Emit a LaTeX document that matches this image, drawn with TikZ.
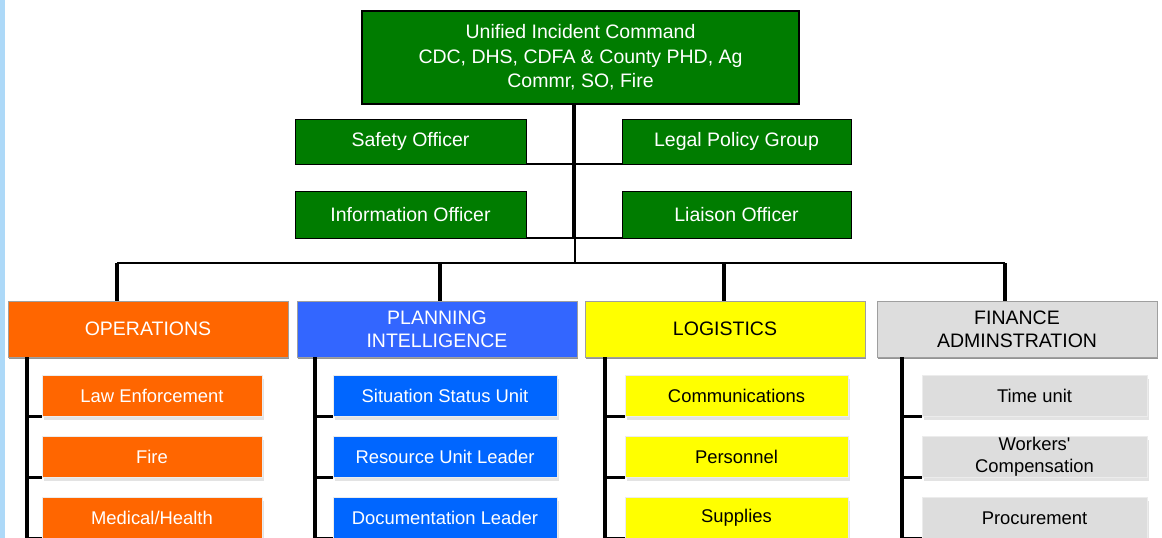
\documentclass[tikz,border=0pt]{standalone}
\usepackage{fontspec}
\setmainfont{Liberation Sans}
\usetikzlibrary{shadows}

\definecolor{cmdgreen}{HTML}{007C00}
\definecolor{opsorange}{HTML}{FF6600}
\definecolor{planblue}{HTML}{3366FF}
\definecolor{subblue}{HTML}{0066FF}
\definecolor{logyellow}{HTML}{FFFF00}
\definecolor{fingray}{HTML}{DDDDDD}
\definecolor{edgeblue}{HTML}{ADD9F8}

\begin{document}
\begin{tikzpicture}[x=1pt,y=-1pt,
  every node/.style={inner sep=0pt, outer sep=0pt, align=center},
  cmdbox/.style={fill=cmdgreen, draw=black, line width=0.9pt, text=white,
    font=\fontsize{19.5}{24.5}\selectfont,
    drop shadow={shadow xshift=1.3pt, shadow yshift=-1.3pt, fill=black, opacity=1}},
  headbox/.style={draw=gray!75, line width=0.9pt,
    font=\fontsize{19.5}{23}\selectfont, minimum width=280pt, minimum height=56pt,
    drop shadow={shadow xshift=1.2pt, shadow yshift=-2.4pt, fill=gray!85, opacity=1}},
  subbox/.style={draw=gray!15, line width=0.8pt,
    font=\fontsize{18.4}{22}\selectfont, minimum height=41pt,
    drop shadow={shadow xshift=2.4pt, shadow yshift=-3pt, fill=gray!22, opacity=1}},
  opsc/.style={fill=opsorange, text=white},
  planc/.style={fill=planblue, text=white},
  plansub/.style={fill=subblue, text=white},
  logc/.style={fill=logyellow, text=black},
  finc/.style={fill=fingray, text=black},
  trunk/.style={draw=black, line width=3.6pt},
  link/.style={draw=black, line width=2.8pt},
  bus/.style={draw=black, line width=2pt},
  stem/.style={draw=black, line width=3.6pt}
]
\useasboundingbox (0,0) rectangle (1162,538);
\clip (0,0) rectangle (1162,538);
\fill[white] (0,0) rectangle (1162,538);
\fill[edgeblue] (0,0) rectangle (4.5,538);

% command staff
\node[cmdbox, line width=1.8pt, minimum width=437pt, minimum height=93pt] (uic) at (580.5,57.5)
  {Unified Incident Command\\CDC, DHS, CDFA \& County PHD, Ag\\Commr, SO, Fire};
\node[cmdbox, minimum width=231pt, minimum height=45pt] (safety) at (410.5,141.5) {Safety Officer};
\node[cmdbox, minimum width=229pt, minimum height=45pt] (legal) at (736.5,141.5) {Legal Policy Group};
\node[cmdbox, minimum width=231pt, minimum height=47pt] (info) at (410.5,214.5) {Information Officer};
\node[cmdbox, minimum width=229pt, minimum height=47pt] (liaison) at (736.5,214.5) {Liaison Officer};

% junctions of the command trunk
\coordinate (j1) at (574,164);
\coordinate (j2) at (574,238);
\coordinate (j3) at (575,238);
\coordinate (busc) at (575,263);
\coordinate (b1) at (117,263);
\coordinate (b2) at (440,263);
\coordinate (b3) at (724,263);
\coordinate (b4) at (1005,263);

% sections
\node[headbox, opsc] (ops) at (148,329) {OPERATIONS};
\node[headbox, planc] (plan) at (437,329) {PLANNING\\INTELLIGENCE};
\node[headbox, logc] (log) at (725,329) {LOGISTICS};
\node[headbox, finc] (fin) at (1017,329) {FINANCE\\ADMINSTRATION};

% units
\node[subbox, opsc, minimum width=220pt] (opsA) at (152,396) {Law Enforcement};
\node[subbox, opsc, minimum width=220pt] (opsB) at (152,457) {Fire};
\node[subbox, opsc, minimum width=220pt] (opsC) at (152,518) {Medical/Health};

\node[subbox, plansub, minimum width=224pt] (planA) at (445,396) {Situation Status Unit};
\node[subbox, plansub, minimum width=224pt] (planB) at (445,457) {Resource Unit Leader};
\node[subbox, plansub, minimum width=224pt] (planC) at (445,518) {Documentation Leader};

\node[subbox, logc, minimum width=223pt] (logA) at (736.5,396) {Communications};
\node[subbox, logc, minimum width=223pt] (logB) at (736.5,457) {Personnel};
\node[subbox, logc, minimum width=223pt] (logC) at (736.5,518) {Supplies\vphantom{/}};

\node[subbox, finc, minimum width=225pt] (finA) at (1034.5,396) {Time unit};
\node[subbox, finc, minimum width=225pt] (finB) at (1034.5,457) {Workers\textquotesingle\\Compensation};
\node[subbox, finc, minimum width=225pt] (finC) at (1034.5,518) {Procurement};

% command connectors
\draw[trunk] (uic.south -| j1) -- (j2);
\draw[bus] (j3) -- (busc);
\draw[link] (safety.south east) -- (legal.south west);
\draw[link] (info.south east) -- (liaison.south west);
\draw[bus] (b1) -- (b4);
\draw[stem] (b1) -- (b1 |- ops.north);
\draw[stem] (b2) -- (b2 |- plan.north);
\draw[stem] (b3) -- (b3 |- log.north);
\draw[stem] (b4) -- (b4 |- fin.north);

% unit connectors
\coordinate (opsS) at ([xshift=19pt]ops.south west);
\coordinate (planS) at ([xshift=18pt]plan.south west);
\coordinate (logS) at ([xshift=20pt]log.south west);
\coordinate (finS) at ([xshift=25pt]fin.south west);
\foreach \s in {ops,plan,log,fin}{
  \draw[stem] (\s S) -- (\s S |- \s C.south);
  \foreach \u in {A,B,C}{
    \draw[stem] (\s S |- \s\u.south west) -- (\s\u.south west);
  }
}
\end{tikzpicture}
\end{document}
